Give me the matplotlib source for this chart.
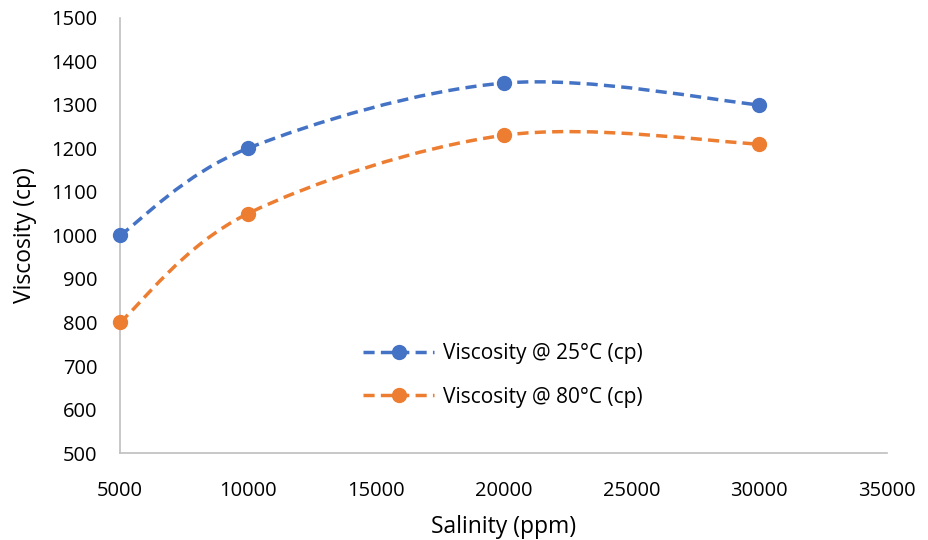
import matplotlib
matplotlib.use("Agg")
from matplotlib import pyplot as plt
from matplotlib.path import Path
from matplotlib.patches import PathPatch
from matplotlib.lines import Line2D

plt.rcParams['font.family'] = ['Open Sans', 'DejaVu Sans']

salinity = [5000, 10000, 20000, 30000]
visc_25 = [1000, 1200, 1350, 1300]
visc_80 = [800, 1050, 1230, 1210]

blue = '#4472C4'
orange = '#ED7D31'
dash = (0, (3.2, 1.8))


def smooth_path(xs, ys):
    # spreadsheet-style smoothed line: cubic bezier through every point
    pts = list(zip(xs, ys))
    n = len(pts)
    verts = [pts[0]]
    codes = [Path.MOVETO]
    for i in range(n - 1):
        p0 = pts[i - 1] if i > 0 else pts[i]
        p1 = pts[i]
        p2 = pts[i + 1]
        p3 = pts[i + 2] if i + 2 < n else pts[i + 1]
        c1 = (p1[0] + (p2[0] - p0[0]) / 6, p1[1] + (p2[1] - p0[1]) / 6)
        c2 = (p2[0] - (p3[0] - p1[0]) / 6, p2[1] - (p3[1] - p1[1]) / 6)
        verts += [c1, c2, p2]
        codes += [Path.CURVE4] * 3
    return Path(verts, codes)


fig = plt.figure(figsize=(9.29, 5.4), dpi=100)
ax = fig.add_axes([0.129, 0.161, 0.826, 0.806])

for ys, col in [(visc_25, blue), (visc_80, orange)]:
    patch = PathPatch(smooth_path(salinity, ys), facecolor='none', edgecolor=col,
                      lw=2.5, linestyle=dash, capstyle='butt')
    ax.add_patch(patch)
    ax.plot(salinity, ys, 'o', color=col, markersize=10, zorder=3, clip_on=False)

ax.set_xlim(5000, 35000)
ax.set_ylim(500, 1500)
ax.set_xticks(range(5000, 35001, 5000))
ax.set_yticks(range(500, 1501, 100))
ax.tick_params(length=0, labelsize=14.5, pad=16)
ax.tick_params(axis='x', pad=20)
for s in ['top', 'right']:
    ax.spines[s].set_visible(False)
for s in ['left', 'bottom']:
    ax.spines[s].set_color('#BFBFBF')
    ax.spines[s].set_linewidth(1.2)

ax.set_xlabel('Salinity (ppm)', fontsize=16.5, labelpad=10)
ax.set_ylabel('Viscosity (cp)', fontsize=16.5, labelpad=10)

handles = [Line2D([], [], color=blue, lw=2.5, linestyle=dash, marker='o', markersize=10),
           Line2D([], [], color=orange, lw=2.5, linestyle=dash, marker='o', markersize=10)]
ax.legend(handles, ['Viscosity @ 25°C (cp)', 'Viscosity @ 80°C (cp)'],
          loc='center left', bbox_to_anchor=(0.38, 0.305), bbox_transform=fig.transFigure,
          frameon=False, fontsize=15, handlelength=3.4, labelspacing=1.1,
          handletextpad=0.4, borderpad=0)

fig.savefig('out.png', dpi=100)
